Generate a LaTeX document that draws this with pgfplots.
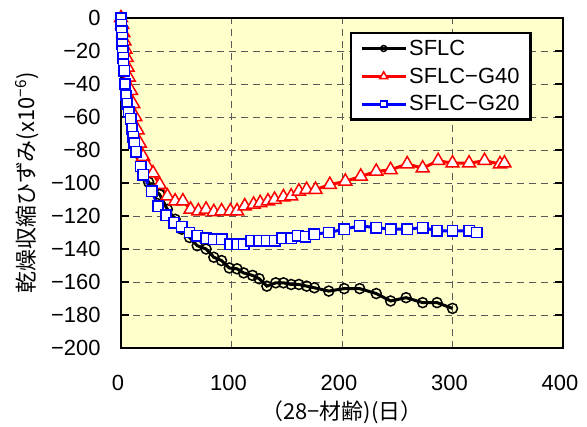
\documentclass[border=0pt]{standalone}
\usepackage{pgfplots}
\pgfplotsset{compat=1.18}
\usepackage{fontspec}
\setmainfont{Liberation Sans}
\newfontfamily\jp{Noto Sans CJK JP}
\definecolor{bgyellow}{RGB}{255,255,204}
\definecolor{gridgray}{RGB}{90,90,90}
\newcommand\fs{\fontsize{22}{26}\selectfont}

% SFLC
\pgfplotstableread{
x y
0 0
1 -8
2 -15
3 -22
4 -30
5 -37
6 -44
7 -50
9 -58
11 -67
13 -75
15 -82
18 -88
21 -94
25 -99.5
28 -103
35 -107
42 -116
49 -122
55 -128
62 -133
69 -138
77 -140
84 -145
91 -147
98 -151.5
105 -152
111 -154.5
119 -156
125 -158
132 -162.5
140 -160.5
147 -160.5
154 -161.5
161 -161.5
168 -162.5
175 -163.5
188 -165.5
202 -164
216 -164
231 -167
244 -171.5
258 -169.5
273 -172.5
286 -172.5
300 -176
}\sflc

% SFLC-G40
\pgfplotstableread{
x y
0 0
1 -4
2 -9
3 -14
4 -19
5 -24
6 -30
7 -36
9 -44
11 -52
13 -60
15 -68
17 -76
20 -84
24 -90
29 -94
35 -101
42 -108
49 -111
56 -111
63 -116
70 -117
77 -116
84 -117.5
91 -117
99 -117
105 -117
112 -114
120 -113
126 -112
133 -111
139 -110
147 -108.5
154 -108
161 -105
168 -104
176 -104
189 -101
203 -99
217 -96
231 -93
244 -92
259 -88.5
273 -91
287 -86.5
300 -88
315 -88
329 -86.5
343 -88.5
347 -88
}\gforty

% SFLC-G20
\pgfplotstableread{
x y
0 0
0.3 -4
0.6 -8
1 -12
1.3 -16
1.6 -20
2 -24
2.3 -28
2.8 -32
3.6 -40
4.5 -47
5.4 -52
7 -57
9 -61
10 -67
11 -72
12 -76
13.6 -81
18 -90
20 -95
28 -105
33.5 -114
40.7 -119.5
48 -124
55 -126.5
62 -130
69 -132
77 -133.5
84 -134
91 -134
99 -137
105 -137
111 -137
118 -135
125 -135
132 -135
139 -135
146 -133.5
154 -133.5
160 -132
167 -132.5
175 -131
188 -130
202 -128
216 -126
231 -127
244 -128
259 -128
273 -127
286 -129
300 -129
315 -129
322 -130
}\gtwenty

\begin{document}
\begin{tikzpicture}
\begin{axis}[
  scale only axis,
  width=442bp, height=330bp,
  xmin=0, xmax=400, ymin=-200, ymax=0,
  xtick={0,100,200,300,400},
  xticklabels={0,100,200,300,400},
  ytick={-200,-180,-160,-140,-120,-100,-80,-60,-40,-20,0},
  yticklabels={−200,−180,−160,−140,−120,−100,−80,−60,−40,−20,0},
  tick label style={font=\fs},
  axis background/.style={fill=bgyellow},
  axis line style={line width=2bp},
  grid=major,
  grid style={dash pattern=on 7bp off 5bp, gridgray, line width=0.8bp},
  xtick style={draw=none},
  ytick style={line width=2bp, black},
  tick align=inside,
  major tick length=8bp,
  xticklabel style={yshift=-24bp, xshift=-3bp},
  yticklabel style={xshift=-17bp},
  every axis y label/.style={at={(axis description cs:-0.213,0.5)}, rotate=90, anchor=center},
  every axis x label/.style={at={(axis description cs:0.5,0)}, anchor=center, yshift=-64bp},
  ylabel={\jp\fs 乾燥収縮ひずみ(x10\textsuperscript{−6})},
  xlabel={\jp\fs （28−材齢)(日）},
  legend style={at={(axis description cs:0.518,0.958)}, anchor=north west,
    draw=black, line width=2.5bp, fill=white, font=\fs, row sep=7bp,
    inner xsep=9bp, inner ysep=5bp},
  legend cell align=left,
  legend image code/.code={
    \draw[#1, mark=none] (0bp,0bp) -- (44bp,0bp);
    \draw[#1, only marks, every mark/.append style={scale=0.6}] plot coordinates {(22bp,0bp)};
  },
]
\addplot[black, line width=3bp, mark=o,
  mark options={solid, fill=white, line width=1.5bp, mark size=5bp}] table[x=x,y=y] {\sflc};
\addlegendentry{SFLC}
\addplot[red, line width=3bp, mark=triangle*,
  mark options={solid, fill=white, line width=1.5bp, mark size=7.5bp}] table[x=x,y=y] {\gforty};
\addlegendentry{SFLC−G40}
\addplot[blue, line width=3bp, mark=square*,
  mark options={solid, fill=white, line width=1.5bp, mark size=5.2bp}] table[x=x,y=y] {\gtwenty};
\addlegendentry{SFLC−G20}
\coordinate (O) at (rel axis cs:0,0);
\end{axis}
\path (O) ++(-121bp,-79bp) rectangle ++(587bp,427bp);
\end{tikzpicture}
\end{document}
